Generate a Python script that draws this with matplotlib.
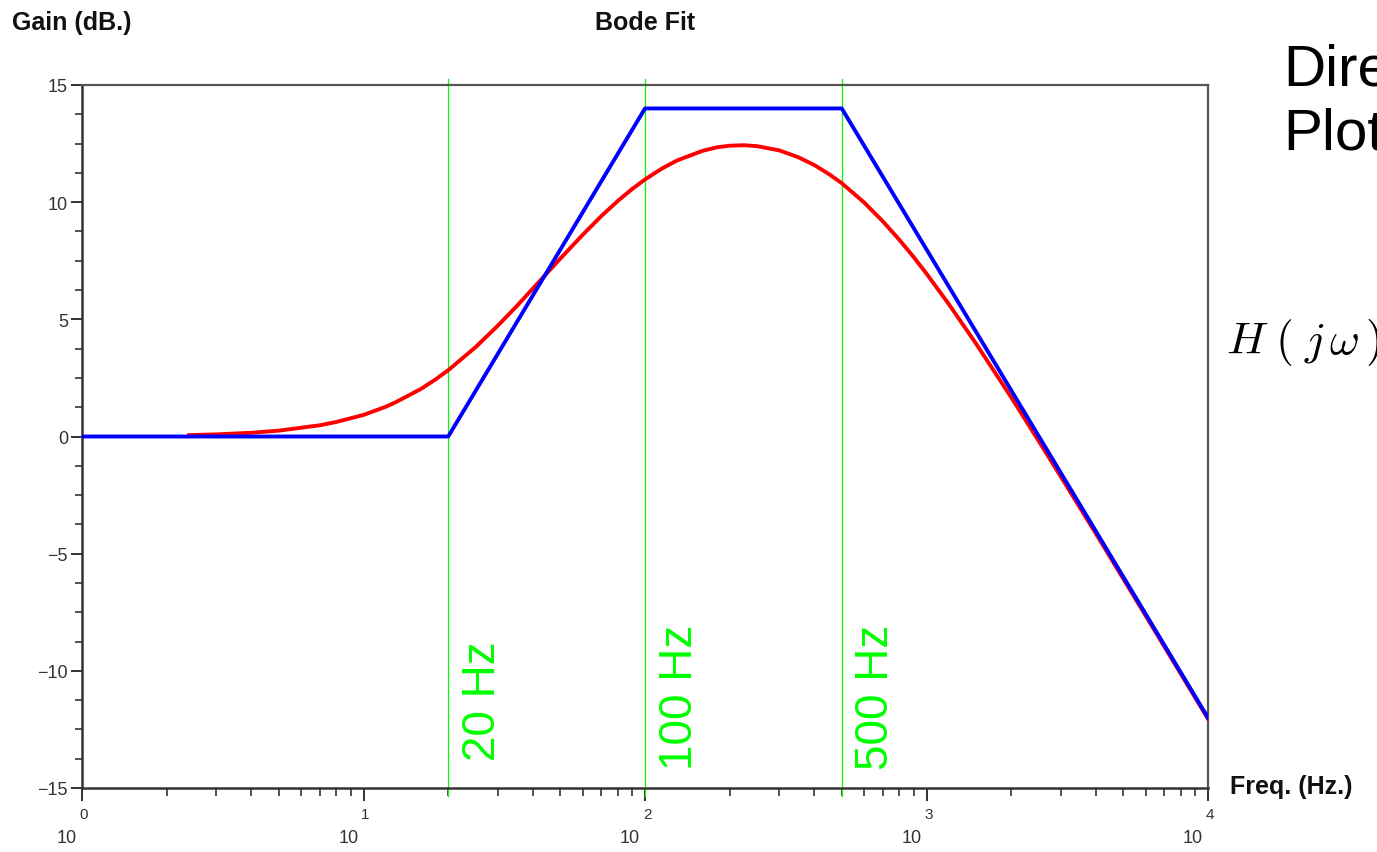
import numpy as np
import matplotlib.pyplot as plt
from matplotlib import transforms
from matplotlib.ticker import FixedLocator, LogLocator, NullFormatter

plt.rcParams["mathtext.fontset"] = "cm"

# asymptotic (straight line) bode approximation
freq_asym = [1, 20, 100, 500, 10000]
gain_asym = [0, 0, 14, 14, -12]

freq_fit = [2.4, 3, 4, 5, 7, 8, 10, 12, 13, 16, 18, 20, 25, 30, 35, 40, 45,
            50, 60, 70, 80, 90, 100, 115, 130, 160, 180, 200, 225, 250, 300,
            350, 400, 450, 500, 600, 700, 800, 900, 1000, 1200, 1500, 2000,
            2500, 3000, 4000, 5000, 7000, 10000]
gain_fit = [0.06, 0.09, 0.16, 0.25, 0.48, 0.62, 0.92, 1.27, 1.46, 2.03, 2.43,
            2.83, 3.81, 4.73, 5.56, 6.32, 6.99, 7.59, 8.60, 9.41, 10.05, 10.56,
            10.97, 11.44, 11.78, 12.19, 12.34, 12.41, 12.43, 12.39, 12.21,
            11.92, 11.58, 11.20, 10.81, 9.99, 9.18, 8.40, 7.66, 6.95, 5.65,
            3.96, 1.67, -0.18, -1.71, -4.15, -6.07, -8.97, -12.05]

# break frequencies
breaks = [20, 100, 500]
break_labels = ["20 Hz", "100 Hz", "500 Hz"]
break_label_y = [-13.8, -14.2, -14.2]

y_ticks = [-15, -10, -5, 0, 5, 10, 15]
decades = [0, 1, 2, 3, 4]

font = "Liberation Sans"
W, H = 1377, 853
fig = plt.figure(figsize=(W / 100, H / 100), dpi=100)
ax = fig.add_axes([82 / W, 1 - 789 / H, 1126 / W, 703 / H])

ax.plot(freq_fit, gain_fit, color="#ff0000", lw=2.8, zorder=3)
ax.plot(freq_asym, gain_asym, color="#0000ff", lw=2.8, zorder=4)

for f, lab, yl in zip(breaks, break_labels, break_label_y):
    ax.axvline(f, ymin=-0.012, ymax=1.009, color="#00ff00", lw=0.9,
               clip_on=False, zorder=2)
    ax.annotate(lab, xy=(f, yl), xytext=(25, 0), textcoords="offset points",
                rotation=90, ha="center", va="bottom", fontsize=33,
                color="#00ff00", family=font)

ax.set_xscale("log")
ax.set_xlim(1, 1e4)
ax.set_ylim(-15, 15)

ax.xaxis.set_major_locator(FixedLocator([10 ** e for e in decades]))
ax.xaxis.set_minor_locator(LogLocator(base=10, subs=np.arange(2, 10)))
ax.xaxis.set_major_formatter(NullFormatter())
ax.xaxis.set_minor_formatter(NullFormatter())
ax.set_yticks(y_ticks)
ax.yaxis.set_minor_locator(FixedLocator(np.arange(-15, 15.01, 1.25)))

ax.tick_params(axis="x", which="major", direction="out", length=9, width=1.3,
               color="#222222")
ax.tick_params(axis="x", which="minor", direction="out", length=6, width=1.1,
               color="#222222")
ax.tick_params(axis="y", which="major", direction="out", length=8, width=1.3,
               color="#222222", labelsize=13, labelcolor="#333333", pad=2)
ax.tick_params(axis="y", which="minor", direction="out", length=5, width=1.1,
               color="#222222")
for lab in ax.get_yticklabels():
    lab.set_family(font)

for side in ["left", "bottom"]:
    ax.spines[side].set_color("#333333")
    ax.spines[side].set_linewidth(1.8)
for side in ["top", "right"]:
    ax.spines[side].set_color("#555555")
    ax.spines[side].set_linewidth(1.6)

# "10" with the exponent raised above it, scilab style
base = transforms.blended_transform_factory(ax.transData, fig.transFigure)
for e in decades:
    left = base + transforms.ScaledTranslation(-5 / 100, 0, fig.dpi_scale_trans)
    right = base + transforms.ScaledTranslation(2 / 100, 0, fig.dpi_scale_trans)
    ax.text(10 ** e, 1 - 839 / H, "10", transform=left, ha="right", va="center",
            fontsize=13, color="#333333", family=font)
    ax.text(10 ** e, 1 - 815 / H, str(e), transform=right, ha="center",
            va="center", fontsize=11, color="#333333", family=font)

fig.text(12 / W, 1 - 23 / H, "Gain (dB.)", ha="left", va="center", fontsize=18,
         fontweight="bold", color="#111111", family=font)
fig.text(645 / W, 1 - 23 / H, "Bode Fit", ha="center", va="center", fontsize=18,
         fontweight="bold", color="#111111", family=font)
fig.text(1230 / W, 1 - 787 / H, "Freq. (Hz.)", ha="left", va="center",
         fontsize=18, fontweight="bold", color="#111111", family=font)

fig.text(1283 / W, 1 - 70 / H, "Direct", ha="left", va="center", fontsize=42,
         color="black", family=font)
fig.text(1283 / W, 1 - 135 / H, "Plot", ha="left", va="center", fontsize=42,
         color="black", family=font)
fig.text(1226 / W, 1 - 343 / H, r"$H\;(\;j\,\omega\,)$", ha="left", va="center",
         fontsize=33, color="black")

fig.savefig("out.png", dpi=100)
